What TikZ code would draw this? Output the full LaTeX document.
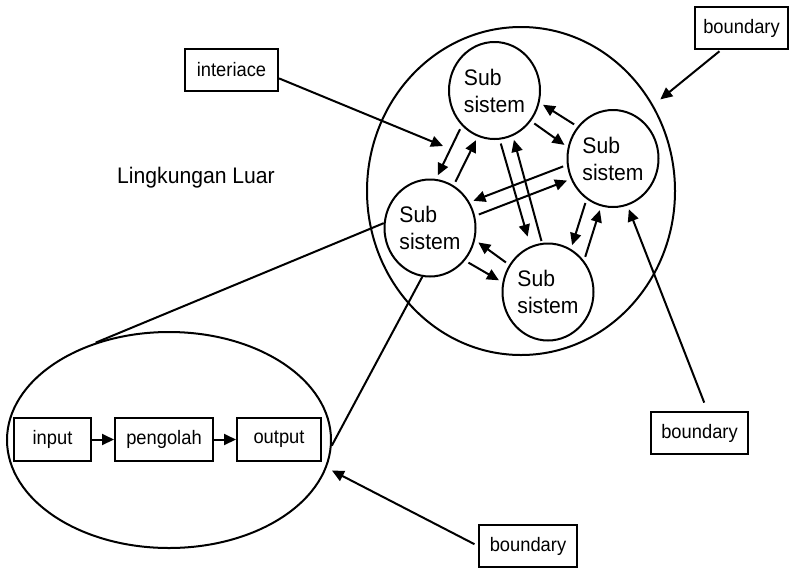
\documentclass[tikz,border=0pt]{standalone}
\usepackage{fontspec}
\setmainfont{Liberation Sans}[FakeStretch=0.94]
\usetikzlibrary{arrows.meta,shapes.geometric}

\begin{document}
\begin{tikzpicture}[x=1pt,y=-1pt,line width=2pt,
	subsys/.style={draw,ellipse,minimum width=91pt,minimum height=97pt,inner sep=0pt,align=left,font=\fontsize{22.5}{27}\selectfont},
	lbl/.style={draw,rectangle,minimum height=42pt,inner sep=0pt,font=\fontsize{19.5}{24}\selectfont},
	conn/.style={-{Triangle[length=12pt,width=11pt]},shorten <=4pt,shorten >=4pt}]
	\useasboundingbox (0,0) rectangle (789,568);
	\node[draw,ellipse,minimum width=308pt,minimum height=328pt] (env) at (521,191) {};
	\node[draw,ellipse,minimum width=324pt,minimum height=216pt] (zoom) at (169,440) {};
	\node[subsys] (top) at (494.5,90.5) {Sub\\sistem};
	\node[subsys] (rgt) at (613,158.5) {Sub\\sistem};
	\node[subsys] (lft) at (430,228) {Sub\\sistem};
	\node[subsys] (bot) at (548,292) {Sub\\sistem};
	\node[anchor=base,font=\fontsize{22.5}{27}\selectfont] (outside) at (196,183) {Lingkungan Luar};
	\node[lbl,minimum width=93pt] (ifc) at (231.5,70) {interiace};
	\node[lbl,minimum width=93pt] (bnd1) at (741.5,28) {boundary};
	\node[lbl,minimum width=97pt] (bnd2) at (699.5,433) {boundary};
	\node[lbl,minimum width=98pt] (bnd3) at (528,546) {boundary};
	\node[lbl,minimum width=77pt,minimum height=43pt] (inp) at (52.5,439.5) {input};
	\node[lbl,minimum width=98pt,minimum height=43pt] (proc) at (164,439.5) {pengolah};
	\node[lbl,minimum width=84pt,minimum height=43pt] (outp) at (279,439.5) {output};
	\coordinate (ifcpt) at (443,146);

	\draw[conn] (top.227) -- (lft.83);
	\draw[conn] (lft.61) -- (top.250);
	\draw[conn,shorten >=10pt] (top.276) -- (bot.111);
	\draw[conn,shorten <=2pt] (bot.97) -- (top.292);
	\draw[conn] (top.320) -- (rgt.166);
	\draw[conn] (rgt.138) -- (top.345);
	\draw[conn] (rgt.188) -- (lft.33);
	\draw[conn] (lft.15) -- (rgt.206);
	\draw[conn] (lft.317) -- (bot.168);
	\draw[conn] (bot.145) -- (lft.345);
	\draw[conn] (rgt.237) -- (bot.62);
	\draw[conn] (bot.41) -- (rgt.256);

	\draw[conn,shorten <=0pt,shorten >=0pt] (ifc.350) -- (ifcpt);
	\draw[conn,shorten <=2pt,shorten >=9pt] (bnd1.227) -- (env.33);
	\draw[conn,shorten <=9pt] (bnd2.70) -- (rgt.287);
	\draw[conn,shorten >=6pt] (bnd3.west) -- (zoom.350);

	\draw (lft.174) -- (zoom.127);
	\draw (lft.261) -- (zoom.358);
	\draw[conn,shorten <=0pt,shorten >=0pt] (inp) -- (proc);
	\draw[conn,shorten <=0pt,shorten >=0pt] (proc) -- (outp);
\end{tikzpicture}
\end{document}
